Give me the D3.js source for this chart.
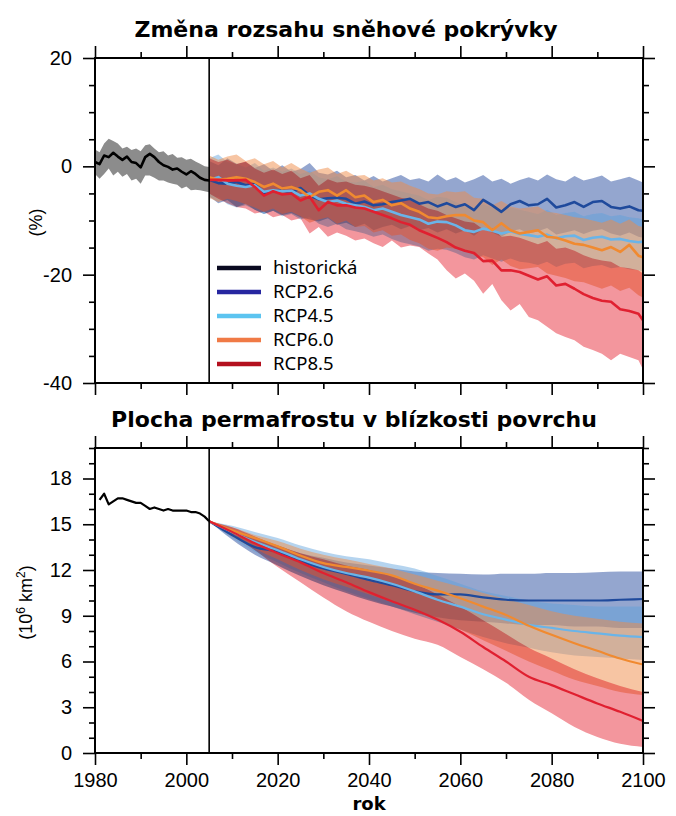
<!DOCTYPE html>
<html>
<head>
<meta charset="utf-8">
<script src="https://cdn.jsdelivr.net/npm/d3@7"></script>
<style>
  body { margin: 0; background: #fff; }
  svg { display: block; }
  .tick text { font-family: "Liberation Sans", Arial, sans-serif; font-size: 20px; fill: #000; }
  .tick line { stroke: #000; stroke-width: 1.6; }
</style>
</head>
<body>
<svg id="chart"></svg>
<script>
// ---------- data: snow cover extent change (%) ----------
const histSnowYears = d3.range(1980, 2006);
const histSnow   = [0.8, 0.4, 2.0, 1.7, 2.5, 1.8, 1.2, 1.8, 0.8, 0.6, -0.2, 1.7, 2.3, 1.7, 0.8, 0.2, -0.1, -0.6, -0.4, -1.0, -1.5, -0.9, -1.4, -2.1, -2.5, -2.6];
const histSnowHi = [3.1, 2.6, 4.2, 5.1, 4.7, 4.2, 3.3, 3.6, 3.0, 3.3, 2.8, 3.9, 4.1, 3.3, 2.6, 2.8, 2.0, 2.3, 1.6, 1.7, 1.2, 1.4, 0.9, 0.5, 0.0, -0.1];
const histSnowLo = [-1.4, -2.3, -1.4, -0.4, -1.7, -1.0, -1.9, -1.4, -2.6, -2.3, -3.2, -1.7, -1.7, -2.1, -2.6, -2.6, -3.0, -3.2, -3.4, -4.1, -3.7, -4.4, -4.3, -4.4, -4.6, -4.8];

const snowYears = d3.range(2005, 2100, 2).concat([2100]);
const snowRcp26 = [-2.5,-3.1,-3.2,-2.9,-3.5,-3.2,-5.0,-4.6,-4.4,-4.9,-4.0,-5.4,-6.1,-5.9,-5.8,-6.0,-6.9,-6.5,-7.2,-7.0,-6.6,-6.3,-6.0,
  -6.9,-6.6,-7.4,-6.8,-7.5,-7.0,-8.1,-6.2,-7.2,-8.4,-7.0,-6.4,-7.2,-7.0,-6.0,-7.6,-7.2,-6.6,-7.5,-6.6,-6.4,-7.5,-7.8,-7.4,-8.1,-8.2];
const snowRcp26Hi = [1.0,0.2,1.5,0.5,0.8,-0.3,0.4,-0.8,0.2,-1.0,-0.5,0.6,-1.2,-1.5,-0.8,-2.0,-1.6,-2.6,-1.8,-2.8,-2.2,-1.6,-2.5,
  -2.2,-2.8,-1.5,-2.6,-2.0,-3.0,-2.4,-1.6,-2.8,-2.3,-3.2,-2.5,-2.0,-2.6,-1.5,-2.4,-2.8,-1.8,-2.6,-2.2,-1.7,-2.8,-2.4,-1.9,-2.6,-3.0];
const snowRcp26Lo = [-5.5,-6.8,-6.2,-7.5,-6.9,-8.0,-8.8,-8.2,-9.0,-8.6,-9.4,-9.8,-10.2,-9.6,-10.8,-10.4,-11.2,-10.6,-11.8,-11.2,-10.8,-11.6,-11.0,
  -11.8,-11.4,-12.2,-11.6,-12.4,-11.8,-12.8,-11.5,-12.2,-13.0,-12.0,-11.6,-12.4,-12.0,-11.4,-12.6,-12.2,-11.8,-12.5,-11.9,-11.6,-12.4,-12.8,-12.2,-13.0,-13.2];

const snowRcp45 = [-2.5,-2.0,-3.2,-3.6,-3.8,-3.5,-4.7,-4.4,-4.6,-4.5,-5.4,-5.0,-6.0,-6.6,-6.3,-6.9,-7.2,-7.5,-8.1,-7.8,-8.4,-9.0,-9.4,
  -9.8,-10.6,-10.2,-10.3,-10.9,-11.8,-12.1,-11.5,-11.9,-12.4,-12.0,-12.5,-12.7,-13.0,-12.6,-13.3,-12.9,-12.8,-13.6,-13.2,-13.0,-13.5,-13.4,-13.8,-14.0,-13.9];
const snowRcp45Hi = [1.5,2.2,0.8,0.5,-0.2,0.6,-0.8,-0.2,-1.0,-0.4,-1.4,-0.8,-2.0,-2.4,-1.8,-2.8,-3.0,-2.6,-3.8,-3.4,-4.2,-4.6,-5.0,
  -5.4,-6.2,-5.6,-5.8,-6.6,-7.4,-7.8,-7.0,-7.6,-8.2,-7.6,-8.0,-8.4,-8.8,-8.0,-9.0,-8.6,-8.4,-9.2,-8.8,-8.6,-9.2,-9.0,-9.4,-9.6,-9.8];
const snowRcp45Lo = [-6.0,-5.6,-7.0,-7.6,-7.2,-8.0,-8.8,-8.2,-9.2,-8.8,-9.8,-9.4,-10.6,-11.2,-10.6,-11.6,-12.0,-12.4,-13.0,-12.6,-13.4,-14.0,-14.4,
  -14.8,-15.6,-15.2,-15.4,-16.0,-16.8,-17.2,-16.4,-17.0,-17.6,-17.0,-17.6,-17.8,-18.2,-17.6,-18.6,-18.0,-17.8,-18.8,-18.4,-18.2,-18.8,-18.6,-19.0,-19.2,-19.4];

const snowRcp60 = [-2.0,-2.5,-2.3,-2.0,-2.3,-2.9,-3.8,-3.2,-4.1,-3.8,-4.4,-5.7,-4.7,-4.4,-5.4,-4.4,-5.7,-5.4,-6.6,-6.2,-7.2,-6.8,-7.8,
  -8.4,-9.4,-9.6,-9.2,-9.0,-9.0,-10.0,-10.3,-11.8,-10.5,-11.8,-12.4,-12.1,-11.8,-13.0,-13.2,-13.7,-14.3,-14.5,-15.0,-15.5,-14.9,-15.8,-14.5,-16.5,-16.8];
const snowRcp60Hi = [2.0,1.2,1.8,2.2,1.0,1.5,0.4,1.0,-0.2,0.6,-0.4,-1.2,-0.6,-0.2,-1.4,-0.8,-1.8,-1.6,-2.6,-2.2,-3.0,-2.8,-3.6,
  -4.2,-5.0,-5.2,-4.6,-4.8,-4.6,-5.8,-6.0,-7.2,-6.4,-7.4,-7.8,-7.6,-7.4,-8.4,-8.6,-9.0,-9.4,-9.6,-10.0,-10.4,-9.8,-10.6,-9.8,-11.0,-11.2];
const snowRcp60Lo = [-5.8,-6.6,-6.0,-6.4,-7.0,-7.6,-8.4,-7.8,-8.8,-8.4,-9.2,-10.4,-9.8,-9.4,-10.6,-10.0,-11.2,-11.0,-12.2,-11.8,-12.8,-12.6,-13.6,
  -14.2,-15.2,-15.6,-15.0,-15.2,-15.4,-16.4,-16.8,-18.2,-17.2,-18.4,-19.0,-18.8,-18.6,-19.8,-20.2,-20.6,-21.2,-21.4,-22.0,-22.6,-22.0,-23.0,-22.4,-23.8,-24.2];

const snowRcp85 = [-2.5,-2.5,-2.6,-2.6,-2.5,-3.8,-5.4,-4.6,-5.2,-5.0,-6.3,-5.6,-8.1,-6.6,-7.2,-7.2,-7.6,-7.8,-8.4,-9.0,-9.6,-10.3,-10.8,
  -11.8,-12.5,-13.2,-14.0,-15.0,-15.6,-16.0,-17.5,-17.4,-19.2,-19.2,-19.5,-20.2,-20.9,-20.3,-22.0,-21.7,-22.6,-23.6,-24.3,-24.8,-25.0,-26.4,-26.7,-27.2,-28.4];
const snowRcp85Hi = [1.5,0.8,1.2,0.4,0.9,-0.4,-1.2,-0.6,-1.4,-0.8,-2.2,-1.6,-3.6,-2.4,-3.0,-2.8,-3.4,-3.6,-4.0,-4.6,-5.2,-5.8,-6.2,
  -7.0,-7.8,-8.2,-9.0,-9.6,-10.2,-10.4,-11.6,-11.4,-13.0,-12.8,-13.2,-13.8,-14.4,-13.8,-15.2,-15.0,-15.6,-16.4,-17.0,-17.4,-17.6,-18.6,-18.8,-19.2,-19.8];
const snowRcp85Lo = [-5.0,-6.0,-6.8,-7.5,-7.8,-8.7,-8.4,-9.4,-9.0,-10.0,-9.6,-12.4,-11.2,-13.0,-12.2,-12.8,-13.7,-13.3,-14.2,-14.9,-13.7,-15.0,-14.6,
  -14.9,-16.1,-17.2,-19.2,-20.7,-19.8,-21.1,-23.5,-21.7,-24.7,-26.6,-25.4,-27.8,-28.4,-29.6,-30.8,-31.5,-32.1,-33.3,-33.9,-34.6,-35.8,-34.6,-35.2,-35.8,-37.5];

// ---------- data: near-surface permafrost area (10^6 km2) ----------
const histPermYears = d3.range(1981, 2006);
const histPerm = [16.6, 17.0, 16.3, 16.5, 16.7, 16.7, 16.6, 16.5, 16.4, 16.4, 16.2, 16.0, 16.1, 16.0, 15.9, 16.0, 15.9, 15.9, 15.9, 15.9, 15.8, 15.8, 15.7, 15.5, 15.2];

const permYears = d3.range(2005, 2101, 5);
const permRcp26   = [15.2, 14.3, 13.5, 13.2, 12.6, 12.1, 11.75, 11.35, 11.0, 10.6, 10.4, 10.4, 10.2, 10.05, 10.0, 10.0, 10.0, 10.0, 10.05, 10.1];
const permRcp26Hi = [15.2, 14.6, 14.0, 13.6, 13.1, 12.8, 12.5, 12.3, 12.1, 11.9, 11.8, 11.75, 11.7, 11.75, 11.75, 11.8, 11.8, 11.85, 11.9, 11.9];
const permRcp26Lo = [15.2, 14.0, 13.0, 12.3, 11.6, 11.0, 10.5, 10.0, 9.6, 9.2, 8.9, 8.7, 8.6, 8.5, 8.4, 8.4, 8.3, 8.3, 8.2, 8.2];
const permRcp45   = [15.2, 14.5, 13.85, 13.3, 12.7, 12.2, 11.8, 11.5, 11.1, 10.6, 10.05, 9.6, 9.1, 8.75, 8.4, 8.2, 8.0, 7.85, 7.7, 7.6];
const permRcp45Hi = [15.2, 14.9, 14.5, 14.1, 13.6, 13.2, 12.9, 12.7, 12.4, 12.1, 11.6, 11.1, 10.6, 10.3, 10.0, 9.8, 9.7, 9.6, 9.6, 9.6];
const permRcp45Lo = [15.2, 14.1, 13.2, 12.5, 11.8, 11.2, 10.6, 10.1, 9.6, 9.1, 8.6, 8.1, 7.6, 7.2, 6.9, 6.6, 6.4, 6.3, 6.2, 6.1];
const permRcp60   = [15.2, 14.6, 14.1, 13.55, 12.95, 12.45, 12.2, 11.95, 11.65, 11.1, 10.65, 10.15, 9.6, 9.05, 8.35, 7.75, 7.2, 6.7, 6.2, 5.8];
const permRcp60Hi = [15.2, 14.8, 14.3, 13.9, 13.4, 13.0, 12.7, 12.4, 12.1, 11.7, 11.3, 10.9, 10.5, 10.1, 9.7, 9.3, 9.0, 8.8, 8.6, 8.5];
const permRcp60Lo = [15.2, 14.2, 13.4, 12.7, 12.0, 11.4, 10.9, 10.4, 9.9, 9.3, 8.7, 8.1, 7.4, 6.7, 6.0, 5.4, 4.8, 4.4, 4.0, 3.8];
const permRcp85   = [15.2, 14.5, 13.75, 13.1, 12.5, 11.8, 11.2, 10.55, 9.95, 9.4, 8.75, 7.95, 6.95, 6.0, 5.0, 4.45, 3.85, 3.25, 2.7, 2.1];
const permRcp85Hi = [15.2, 14.8, 14.2, 13.6, 13.1, 12.7, 12.3, 12.0, 11.6, 11.1, 10.4, 9.6, 8.7, 7.8, 6.9, 6.2, 5.5, 4.9, 4.4, 4.0];
const permRcp85Lo = [15.2, 14.3, 13.3, 12.2, 11.2, 10.2, 9.3, 8.6, 8.0, 7.5, 7.1, 6.3, 5.5, 4.6, 3.5, 2.6, 1.7, 1.05, 0.6, 0.4];

const scenarioNames = ["RCP2.6", "RCP4.5", "RCP6.0", "RCP8.5"];
const lineColors   = ["#1f4a9c", "#6ab4e8", "#f08a30", "#e02030"];
// spread fills: colour, opacity, blend mode
const bandColors   = ["#3d5ca8", "#5aa0dc", "#f08c48", "#f3969d"];
const bandOpacity  = [0.55, 0.45, 0.5, 1];
const bandBlend    = ["normal", "normal", "normal", "multiply"];
const legendNames  = ["historická", "RCP2.6", "RCP4.5", "RCP6.0", "RCP8.5"];
const legendColors = ["#0a0a20", "#2626a0", "#5cc4f0", "#f07a46", "#b4101e"];

// ---------- layout ----------
const width = 676, height = 816;
const plotLeft = 95, plotRight = 643;

const svg = d3.select("#chart")
    .attr("width", width)
    .attr("height", height);

svg.append("rect").attr("width", width).attr("height", height).attr("fill", "#fff");

const x = d3.scaleLinear().domain([1980, 2100]).range([plotLeft, plotRight]);

const fmt = d => String(d);

function drawPanel(cfg) {
    const y = d3.scaleLinear().domain(cfg.domain).range([cfg.bottom, cfg.top]);
    const g = svg.append("g");
    const clipId = "clip" + cfg.id;

    g.append("clipPath").attr("id", clipId)
      .append("rect")
        .attr("x", plotLeft).attr("y", cfg.top)
        .attr("width", plotRight - plotLeft).attr("height", cfg.bottom - cfg.top);

    const plot = g.append("g").attr("clip-path", `url(#${clipId})`);

    // historical spread
    if (cfg.histHi) {
        plot.append("path")
            .datum(cfg.histYears.map((yr, i) => [yr, cfg.histLo[i], cfg.histHi[i]]))
            .attr("fill", "#8c8c8c")
            .attr("d", d3.area().x(d => x(d[0])).y0(d => y(d[1])).y1(d => y(d[2])));
    }

    // scenario spreads
    const bands = plot.append("g").style("isolation", "isolate");
    cfg.series.forEach((s, k) => {
        bands.append("path")
            .datum(cfg.years.map((yr, i) => [yr, s.lo[i], s.hi[i]]))
            .attr("fill", bandColors[k])
            .attr("fill-opacity", bandOpacity[k])
            .style("mix-blend-mode", bandBlend[k])
            .attr("d", d3.area().curve(cfg.curve).x(d => x(d[0])).y0(d => y(d[1])).y1(d => y(d[2])));
    });

    // historical line
    plot.append("path")
        .datum(cfg.histYears.map((yr, i) => [yr, cfg.hist[i]]))
        .attr("fill", "none")
        .attr("stroke", "#000")
        .attr("stroke-width", cfg.lineWidth)
        .attr("stroke-linejoin", "round")
        .attr("d", d3.line().x(d => x(d[0])).y(d => y(d[1])));

    // scenario means
    cfg.series.forEach((s, k) => {
        plot.append("path")
            .datum(cfg.years.map((yr, i) => [yr, s.mean[i]]))
            .attr("fill", "none")
            .attr("stroke", lineColors[k])
            .attr("stroke-width", cfg.lineWidth)
            .attr("stroke-linejoin", "round")
            .attr("d", d3.line().curve(cfg.curve).x(d => x(d[0])).y(d => y(d[1])));
    });

    // 2005 divider
    g.append("line")
        .attr("x1", x(2005)).attr("x2", x(2005))
        .attr("y1", cfg.top).attr("y2", cfg.bottom)
        .attr("stroke", "#000").attr("stroke-width", 1.6);

    // axes: major + minor ticks on all four sides
    const xMajor = d3.range(1980, 2101, 20), xMinor = d3.range(1990, 2100, 20);
    const addAxis = (axis, transform, labels) => {
        const a = g.append("g").attr("transform", transform).call(axis);
        a.select(".domain").remove();
        if (!labels) a.selectAll("text").remove();
        return a;
    };
    addAxis(d3.axisTop(x).tickValues(xMajor).tickSize(12), `translate(0,${cfg.top})`, false);
    addAxis(d3.axisTop(x).tickValues(xMinor).tickSize(6), `translate(0,${cfg.top})`, false);
    addAxis(d3.axisBottom(x).tickValues(xMajor).tickSize(12).tickPadding(8).tickFormat(fmt), `translate(0,${cfg.bottom})`, cfg.xLabels);
    addAxis(d3.axisBottom(x).tickValues(xMinor).tickSize(6), `translate(0,${cfg.bottom})`, false);
    addAxis(d3.axisLeft(y).tickValues(cfg.yMajor).tickSize(12).tickPadding(11).tickFormat(fmt), `translate(${plotLeft},0)`, true);
    addAxis(d3.axisLeft(y).tickValues(cfg.yMinor).tickSize(6), `translate(${plotLeft},0)`, false);
    addAxis(d3.axisRight(y).tickValues(cfg.yMajor).tickSize(12), `translate(${plotRight},0)`, false);
    addAxis(d3.axisRight(y).tickValues(cfg.yMinor).tickSize(6), `translate(${plotRight},0)`, false);

    // frame
    g.append("rect")
        .attr("x", plotLeft).attr("y", cfg.top)
        .attr("width", plotRight - plotLeft).attr("height", cfg.bottom - cfg.top)
        .attr("fill", "none").attr("stroke", "#000").attr("stroke-width", 2);

    // title
    g.append("text")
        .attr("x", cfg.titleX)
        .attr("y", cfg.titleY)
        .attr("text-anchor", "middle")
        .style("font-family", "'DejaVu Sans', Verdana, sans-serif")
        .style("font-weight", "bold")
        .style("font-size", "22px")
        .text(cfg.title);

    return { g, y };
}

// ---------- top panel: snow cover ----------
const snowPanel = drawPanel({
    id: "snow",
    domain: [-40, 20], top: 58, bottom: 383,
    yMajor: [-40, -20, 0, 20], yMinor: d3.range(-35, 20, 5).filter(v => v % 20 !== 0),
    histYears: histSnowYears, hist: histSnow, histHi: histSnowHi, histLo: histSnowLo,
    years: snowYears,
    series: [
        { mean: snowRcp26, hi: snowRcp26Hi, lo: snowRcp26Lo },
        { mean: snowRcp45, hi: snowRcp45Hi, lo: snowRcp45Lo },
        { mean: snowRcp60, hi: snowRcp60Hi, lo: snowRcp60Lo },
        { mean: snowRcp85, hi: snowRcp85Hi, lo: snowRcp85Lo }
    ],
    curve: d3.curveLinear, lineWidth: 2.6,
    xLabels: false,
    title: "Změna rozsahu sněhové pokrývky", titleX: 346, titleY: 37
});

snowPanel.g.append("text")
    .attr("transform", `translate(42,${snowPanel.y(-10) + 2}) rotate(-90)`)
    .attr("text-anchor", "middle")
    .style("font-family", "'Liberation Sans', Arial, sans-serif")
    .style("font-size", "18px")
    .text("(%)");

// legend
const legend = snowPanel.g.append("g").attr("transform", "translate(217,268)");
legendNames.forEach((name, i) => {
    const row = legend.append("g").attr("transform", `translate(0,${i * 24})`);
    row.append("line")
        .attr("x1", 0).attr("x2", 44)
        .attr("stroke", legendColors[i]).attr("stroke-width", 4.5);
    row.append("text")
        .attr("x", 56).attr("y", 6)
        .style("font-family", "'Noto Sans', sans-serif")
        .style("font-size", "18.5px")
        .text(name);
});

// ---------- bottom panel: permafrost ----------
const permPanel = drawPanel({
    id: "perm",
    domain: [0, 20], top: 448, bottom: 753,
    yMajor: d3.range(0, 19, 3), yMinor: d3.range(0, 21, 1).filter(v => v % 3 !== 0 || v > 18),
    histYears: histPermYears, hist: histPerm,
    years: permYears,
    series: [
        { mean: permRcp26, hi: permRcp26Hi, lo: permRcp26Lo },
        { mean: permRcp45, hi: permRcp45Hi, lo: permRcp45Lo },
        { mean: permRcp60, hi: permRcp60Hi, lo: permRcp60Lo },
        { mean: permRcp85, hi: permRcp85Hi, lo: permRcp85Lo }
    ],
    curve: d3.curveMonotoneX, lineWidth: 2.2,
    xLabels: true,
    title: "Plocha permafrostu v blízkosti povrchu", titleX: 354, titleY: 427
});

const permLabel = permPanel.g.append("text")
    .attr("transform", `translate(32,${permPanel.y(10) + 2}) rotate(-90)`)
    .attr("text-anchor", "middle")
    .style("font-family", "'Liberation Sans', Arial, sans-serif")
    .style("font-size", "18px");
permLabel.append("tspan").text("(10");
permLabel.append("tspan").attr("dy", -7).style("font-size", "12px").text("6");
permLabel.append("tspan").attr("dy", 7).text(" km");
permLabel.append("tspan").attr("dy", -7).style("font-size", "12px").text("2");
permLabel.append("tspan").attr("dy", 7).text(")");

svg.append("text")
    .attr("x", (plotLeft + plotRight) / 2)
    .attr("y", 810)
    .attr("text-anchor", "middle")
    .style("font-family", "'DejaVu Sans', Verdana, sans-serif")
    .style("font-weight", "bold")
    .style("font-size", "18px")
    .text("rok");
</script>
</body>
</html>
